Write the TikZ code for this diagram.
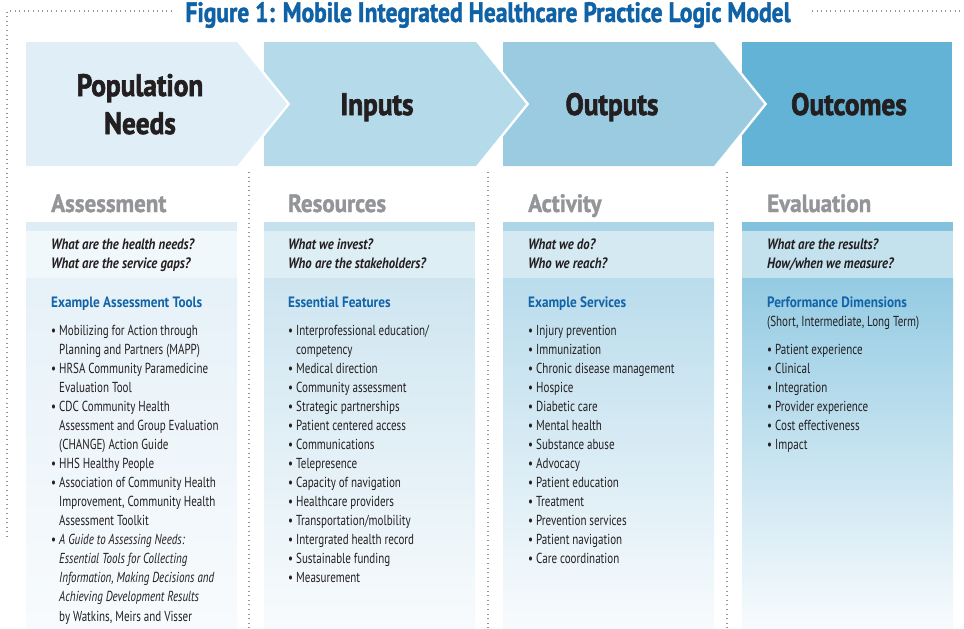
\documentclass[tikz,border=0pt]{standalone}
\usepackage{fontspec}
\setmainfont{PT Sans}[FakeStretch=0.76]
\newfontfamily\fT{PT Sans}[FakeStretch=0.84, BoldFeatures={FakeBold=1.5}]
\newfontfamily\fH{PT Sans}[FakeStretch=0.88, BoldFeatures={FakeBold=2}]
\newfontfamily\fS{PT Sans}[FakeStretch=0.92, BoldFeatures={FakeBold=1.5}]
\newfontfamily\fQ{PT Sans}[FakeStretch=0.85]
\newfontfamily\fE{PT Sans}[FakeStretch=0.88]
\definecolor{titleblue}{RGB}{16,98,166}
\definecolor{subblue}{RGB}{18,100,168}
\definecolor{dark}{RGB}{35,31,32}
\definecolor{grayh}{RGB}{147,149,152}
\definecolor{dotc}{RGB}{150,150,150}
\definecolor{ch1}{RGB}{224,239,247}
\definecolor{ch2}{RGB}{181,218,234}
\definecolor{ch3}{RGB}{155,203,225}
\definecolor{ch4}{RGB}{98,179,213}
\definecolor{sa}{RGB}{222,237,245}\definecolor{qa}{RGB}{241,248,251}\definecolor{ba}{RGB}{230,241,248}
\definecolor{sb}{RGB}{198,225,238}\definecolor{qb}{RGB}{222,238,245}\definecolor{bb}{RGB}{206,229,240}
\definecolor{sc}{RGB}{173,214,232}\definecolor{qc}{RGB}{212,233,242}\definecolor{bc}{RGB}{186,220,236}
\definecolor{sd}{RGB}{130,194,222}\definecolor{qd}{RGB}{196,226,238}\definecolor{bd}{RGB}{148,203,227}
\definecolor{fade}{RGB}{248,251,253}
\tikzset{
  dotline/.style={draw=dotc, line width=1.1pt, dash pattern=on 1pt off 3.6pt},
  titlestyle/.style={font=\fontsize{28}{32}\fT\bfseries, text=titleblue, inner sep=0, anchor=base},
  hdr/.style={font=\fontsize{31}{38}\fH\bfseries, text=dark, inner sep=0, anchor=base, align=center},
  sec/.style={font=\fontsize{25}{28}\fS\bfseries, text=grayh, anchor=base west, inner sep=0},
  qtext/.style={font=\fontsize{15}{19}\fQ\bfseries\itshape, text=dark, anchor=base west, inner sep=0},
  subh/.style={font=\fontsize{15}{19}\fE\bfseries, text=subblue, anchor=base west, inner sep=0},
  itm/.style={font=\fontsize{14.5}{19}\selectfont, text=dark, anchor=base west, inner sep=0},
  gap/.style={draw=white, line width=5pt}
}
\begin{document}
\begin{tikzpicture}[x=1pt,y=-1pt]
\useasboundingbox (0,0) rectangle (964,629);
% dotted frame and separators
\draw[dotline] (172,11) -- (7,11) -- (7,537);
\draw[dotline] (812,11) -- (964,11);
\foreach \sx in {249,488,727} \draw[dotline] (\sx,172) -- (\sx,629);
% title
\node[titlestyle] (title) at (488,22) {Figure 1: Mobile Integrated Healthcare Practice Logic Model};
% chevrons
\fill[ch4] (742,42) rectangle (952,166);
\draw[gap] (714,42) -- (764,104) -- (714,166);
\fill[ch3] (503,42) -- (714,42) -- (764,104) -- (714,166) -- (503,166) -- cycle;
\draw[gap] (476,42) -- (526,104) -- (476,166);
\fill[ch2] (264,42) -- (476,42) -- (526,104) -- (476,166) -- (264,166) -- cycle;
\draw[gap] (237,42) -- (287,104) -- (237,166);
\fill[ch1] (26,42) -- (237,42) -- (287,104) -- (237,166) -- (26,166) -- cycle;
\node[hdr] (h1) at (140,96) {Population};
\node[hdr] (h1b) at (140,134) {Needs};
\node[hdr] (h2) at (377,115) {Inputs};
\node[hdr] (h3) at (612,115) {Outputs};
\node[hdr] (h4) at (849,115) {Outcomes};
% panels
\foreach \px/\s/\q/\b in {26/sa/qa/ba, 264/sb/qb/bb, 503/sc/qc/bc, 742/sd/qd/bd}{
  \fill[\s] (\px,222) rectangle ++(211,9);
  \fill[\q] (\px,231) rectangle ++(211,47);
  \shade[top color=\b, bottom color=fade] (\px,278) rectangle ++(211,351);
}
% column 1
\node[sec] (s1) at (51,212) {Assessment};
\node[qtext] (q1a) at (51,249) {What are the health needs?};
\node[qtext] (q1b) at (51,268) {What are the service gaps?};
\node[subh] (e1) at (51,307) {Example Assessment Tools};
\foreach \k/\t [count=\i] in {
  {b/Mobilizing for Action through},
  {c/Planning and Partners (MAPP)},
  {b/HRSA Community Paramedicine},
  {c/Evaluation Tool},
  {b/CDC Community Health},
  {c/Assessment and Group Evaluation},
  {c/(CHANGE) Action Guide},
  {b/HHS Healthy People},
  {b/Association of Community Health},
  {c/Improvement, Community Health},
  {c/Assessment Toolkit},
  {b/\itshape A Guide to Assessing Needs:},
  {c/\itshape Essential Tools for Collecting},
  {c/\itshape Information, Making Decisions and},
  {c/\itshape Achieving Development Results},
  {c/by Watkins, Meirs and Visser}}{
  \pgfmathsetmacro\yy{335+19.07*(\i-1)}
  \node[itm] (la\i) at (59,\yy) {\t};
  \if\k b\node[itm] (lab\i) at (51,\yy) {•};\fi
}
% column 2
\node[sec] (s2) at (288,212) {Resources};
\node[qtext] (q2a) at (288,249) {What we invest?};
\node[qtext] (q2b) at (288,268) {Who are the stakeholders?};
\node[subh] (e2) at (288,307) {Essential Features};
\foreach \k/\t [count=\i] in {
  {b/Interprofessional education{/}},
  {c/competency},
  {b/Medical direction},
  {b/Community assessment},
  {b/Strategic partnerships},
  {b/Patient centered access},
  {b/Communications},
  {b/Telepresence},
  {b/Capacity of navigation},
  {b/Healthcare providers},
  {b/Transportation{/}molbility},
  {b/Intergrated health record},
  {b/Sustainable funding},
  {b/Measurement}}{
  \pgfmathsetmacro\yy{335+19.07*(\i-1)}
  \node[itm] (lb\i) at (296,\yy) {\t};
  \if\k b\node[itm] (lbb\i) at (288,\yy) {•};\fi
}
% column 3
\node[sec] (s3) at (528,212) {Activity};
\node[qtext] (q3a) at (528,249) {What we do?};
\node[qtext] (q3b) at (528,268) {Who we reach?};
\node[subh] (e3) at (528,307) {Example Services};
\foreach \t [count=\i] in {
  Injury prevention, Immunization, Chronic disease management, Hospice,
  Diabetic care, Mental health, Substance abuse, Advocacy, Patient education,
  Treatment, Prevention services, Patient navigation, Care coordination}{
  \pgfmathsetmacro\yy{335+19.07*(\i-1)}
  \node[itm] (lc\i) at (536,\yy) {\t};
  \node[itm] (lcb\i) at (528,\yy) {•};
}
% column 4
\node[sec] (s4) at (767,212) {Evaluation};
\node[qtext] (q4a) at (767,249) {What are the results?};
\node[qtext] (q4b) at (767,268) {How/when we measure?};
\node[subh] (e4) at (767,307) {Performance Dimensions};
\node[itm] (e4b) at (767,326.5) {(Short, Intermediate, Long Term)};
\foreach \t [count=\i] in {
  Patient experience, Clinical, Integration, Provider experience,
  Cost effectiveness, Impact}{
  \pgfmathsetmacro\yy{354+19.07*(\i-1)}
  \node[itm] (ld\i) at (775,\yy) {\t};
  \node[itm] (ldb\i) at (767,\yy) {•};
}
\end{tikzpicture}
\end{document}
